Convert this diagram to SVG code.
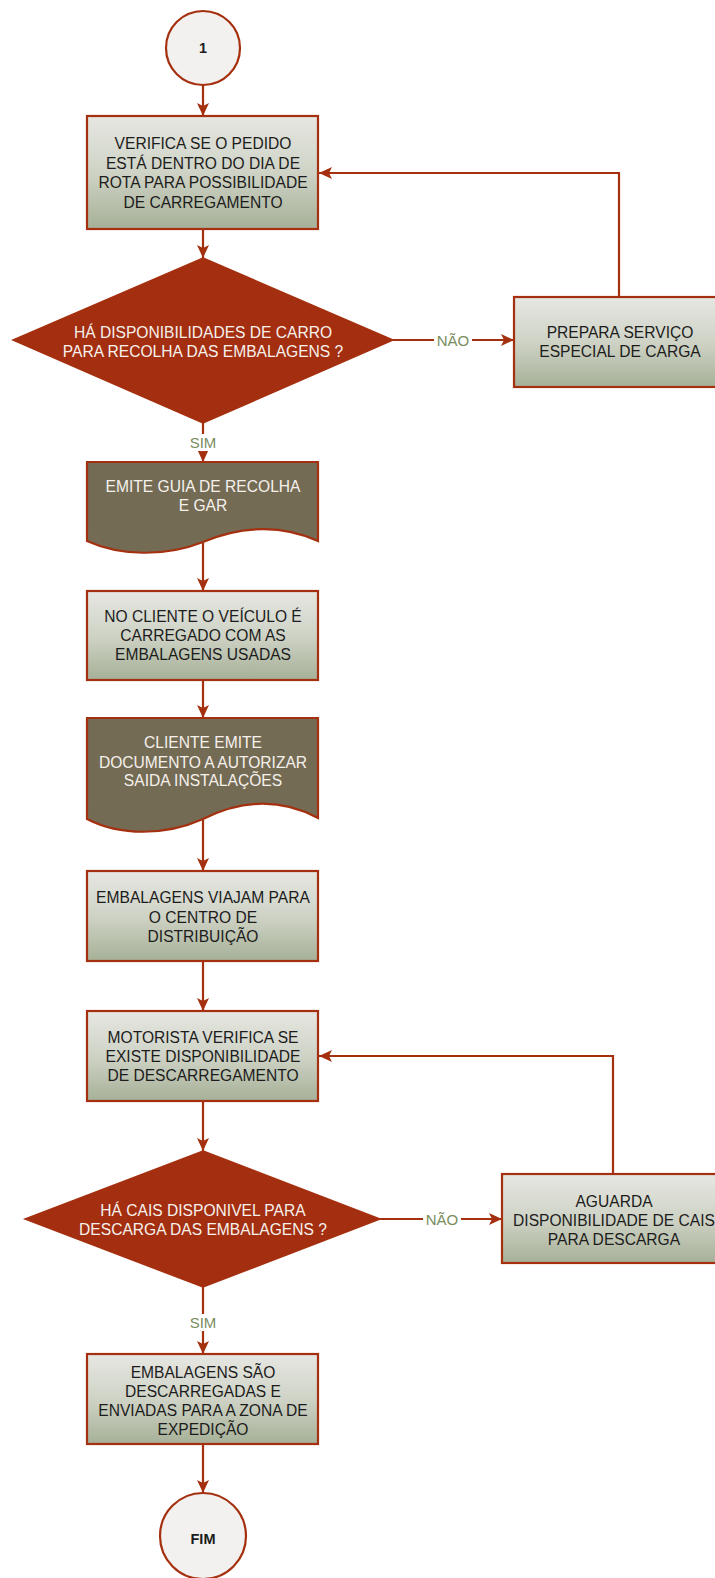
<svg xmlns="http://www.w3.org/2000/svg" width="715" height="1578" viewBox="0 0 715 1578">
<style>
.box{fill:url(#g);stroke:#a5300f;stroke-width:2.2}
.dia{fill:#a32e10;stroke:#a5300f;stroke-width:1.5}
.doc{fill:#746b54;stroke:#a5300f;stroke-width:2.2}
.circ{fill:#f2f1ef;stroke:#a5300f;stroke-width:2.2}
.t{font-family:"Liberation Sans",Arial,sans-serif;font-size:15.6px;text-anchor:middle;fill:#1c1c1c}
.w{fill:#f6f1ec}
.b{font-weight:bold;font-size:14.5px}
.lbl{font-family:"Liberation Sans",Arial,sans-serif;font-size:15px;text-anchor:middle;fill:#7a8d5d}
.c{fill:none;stroke:#a5300f;stroke-width:2.2}
</style>
<defs>
<linearGradient id="g" x1="0" y1="0" x2="0" y2="1">
<stop offset="0" stop-color="#e6e7e2"/>
<stop offset="0.5" stop-color="#cfd3c6"/>
<stop offset="1" stop-color="#a6b097"/>
</linearGradient>
<marker id="a" markerUnits="userSpaceOnUse" markerWidth="14" markerHeight="14" viewBox="0 0 14 14" refX="13" refY="7" orient="auto">
<path d="M0,1 L13,7 L0,13 L3,7 z" fill="#a5300f"/>
</marker>
</defs>

<g id="connectors">
<path class="c" d="M203,85 V116" marker-end="url(#a)"/>
<path class="c" d="M203,229 V258" marker-end="url(#a)"/>
<path class="c" d="M393,340 H514" marker-end="url(#a)"/>
<path class="c" d="M619,297 V173 H319" marker-end="url(#a)"/>
<path class="c" d="M203,423 V462" marker-end="url(#a)"/>
<path class="c" d="M203,543 V591" marker-end="url(#a)"/>
<path class="c" d="M203,680 V718" marker-end="url(#a)"/>
<path class="c" d="M203,820 V871" marker-end="url(#a)"/>
<path class="c" d="M203,961 V1011" marker-end="url(#a)"/>
<path class="c" d="M203,1101 V1151" marker-end="url(#a)"/>
<path class="c" d="M380,1219 H502" marker-end="url(#a)"/>
<path class="c" d="M613,1174 V1056 H319" marker-end="url(#a)"/>
<path class="c" d="M203,1287 V1354" marker-end="url(#a)"/>
<path class="c" d="M203,1444 V1493" marker-end="url(#a)"/>
<rect x="434" y="332" width="38" height="17" fill="#fff"/>
<text class="lbl" x="453" y="346">NÃO</text>
<rect x="186" y="434" width="34" height="17" fill="#fff"/>
<text class="lbl" x="203" y="448">SIM</text>
<rect x="423" y="1211" width="38" height="17" fill="#fff"/>
<text class="lbl" x="442" y="1225">NÃO</text>
<rect x="186" y="1314" width="34" height="17" fill="#fff"/>
<text class="lbl" x="203" y="1328">SIM</text>
</g>

<g id="start">
<circle class="circ" cx="203" cy="48" r="37"/>
<text class="t b" x="203" y="53">1</text>
</g>

<g id="verifica">
<rect class="box" x="87" y="116" width="231" height="113"/>
<text class="t" x="203" y="149">VERIFICA SE O PEDIDO</text>
<text class="t" x="203" y="168.5">ESTÁ DENTRO DO DIA DE</text>
<text class="t" x="203" y="188">ROTA PARA POSSIBILIDADE</text>
<text class="t" x="203" y="207.5">DE CARREGAMENTO</text>
</g>

<g id="decisao1">
<polygon class="dia" points="203,258 393,340 203,423 13,340"/>
<text class="t w" x="203" y="338">HÁ DISPONIBILIDADES DE CARRO</text>
<text class="t w" x="203" y="357">PARA RECOLHA DAS EMBALAGENS ?</text>
</g>

<g id="prepara">
<rect class="box" x="514" y="297" width="212" height="90"/>
<text class="t" x="620" y="338">PREPARA SERVIÇO</text>
<text class="t" x="620" y="357">ESPECIAL DE CARGA</text>
</g>

<g id="emite">
<path class="doc" d="M87,462 H318 V541 C285,526 245,524 203,542 C165,557 120,556 87,541 Z"/>
<text class="t w" x="203" y="492">EMITE GUIA DE RECOLHA</text>
<text class="t w" x="203" y="511">E GAR</text>
</g>

<g id="carregado">
<rect class="box" x="87" y="591" width="231" height="89"/>
<text class="t" x="203" y="622">NO CLIENTE O VEÍCULO É</text>
<text class="t" x="203" y="641">CARREGADO COM AS</text>
<text class="t" x="203" y="660">EMBALAGENS USADAS</text>
</g>

<g id="documento">
<path class="doc" d="M87,718 H318 V818 C284,800 245,798 203,819 C165,836 120,836 87,819 Z"/>
<text class="t w" x="203" y="748">CLIENTE EMITE</text>
<text class="t w" x="203" y="767.5">DOCUMENTO A AUTORIZAR</text>
<text class="t w" x="203" y="786">SAIDA INSTALAÇÕES</text>
</g>

<g id="viajam">
<rect class="box" x="87" y="871" width="231" height="90"/>
<text class="t" x="203" y="903">EMBALAGENS VIAJAM PARA</text>
<text class="t" x="203" y="922.5">O CENTRO DE</text>
<text class="t" x="203" y="942">DISTRIBUIÇÃO</text>
</g>

<g id="motorista">
<rect class="box" x="87" y="1011" width="231" height="90"/>
<text class="t" x="203" y="1043">MOTORISTA VERIFICA SE</text>
<text class="t" x="203" y="1062">EXISTE DISPONIBILIDADE</text>
<text class="t" x="203" y="1081">DE DESCARREGAMENTO</text>
</g>

<g id="decisao2">
<polygon class="dia" points="203,1151 380,1219 203,1287 25,1219"/>
<text class="t w" x="203" y="1216">HÁ CAIS DISPONIVEL PARA</text>
<text class="t w" x="203" y="1235">DESCARGA DAS EMBALAGENS ?</text>
</g>

<g id="aguarda">
<rect class="box" x="502" y="1174" width="222" height="89"/>
<text class="t" x="614" y="1207">AGUARDA</text>
<text class="t" x="614" y="1226">DISPONIBILIDADE DE CAIS</text>
<text class="t" x="614" y="1245">PARA DESCARGA</text>
</g>

<g id="descarregadas">
<rect class="box" x="87" y="1354" width="231" height="90"/>
<text class="t" x="203" y="1378">EMBALAGENS SÃO</text>
<text class="t" x="203" y="1397">DESCARREGADAS E</text>
<text class="t" x="203" y="1416">ENVIADAS PARA A ZONA DE</text>
<text class="t" x="203" y="1435">EXPEDIÇÃO</text>
</g>

<g id="fim">
<circle class="circ" cx="203" cy="1536" r="43"/>
<text class="t b" x="203" y="1544">FIM</text>
</g>
</svg>
